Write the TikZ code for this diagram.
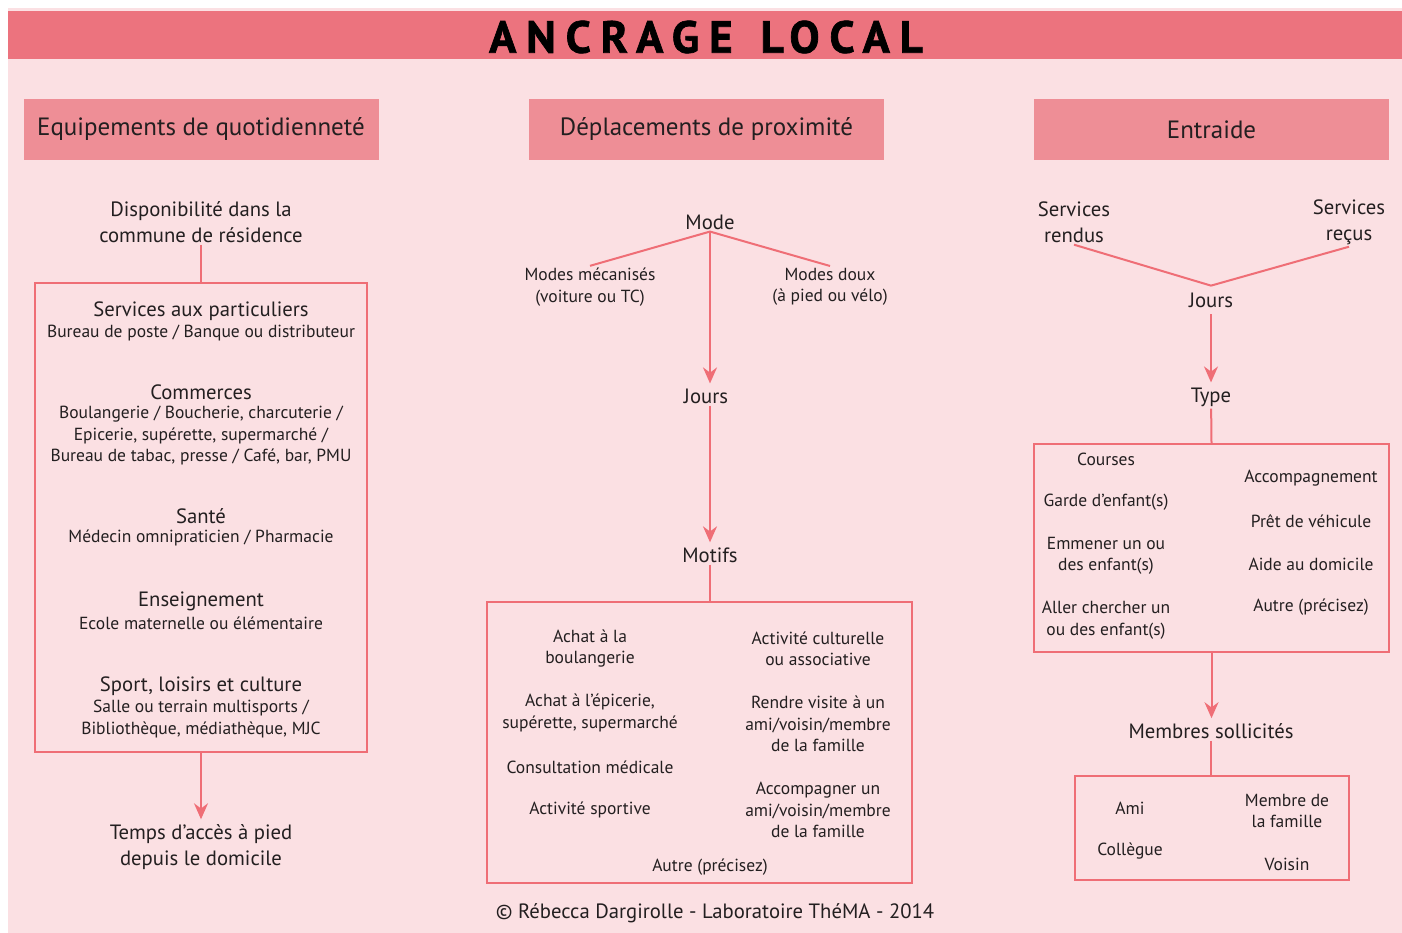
\documentclass[tikz,border=0pt]{standalone}
\usepackage{fontspec}
\setmainfont{PT Sans}
\newfontfamily\titrefont{PT Sans}[LetterSpace=22, FakeBold=1.5]
\usepackage{tikz}
\usetikzlibrary{arrows.meta,positioning}
\definecolor{fond}{RGB}{251,224,227}
\definecolor{bande}{RGB}{236,115,126}
\definecolor{entete}{RGB}{238,142,150}
\definecolor{rouge}{RGB}{239,110,118}
\definecolor{encre}{RGB}{35,31,32}
\tikzstyle{etiq}=[align=center, inner sep=2pt, text=encre, font=\fontsize{20.7}{26}\selectfont]
\tikzstyle{petit}=[etiq, font=\fontsize{17.5}{21.5}\selectfont]
\tikzstyle{entetebox}=[fill=entete, minimum width=355pt, minimum height=61pt, text=encre, font=\fontsize{25}{28}\selectfont]
\tikzstyle{cadre}=[draw=rouge, line width=2pt]
\newcommand{\etiq}{\node[etiq]}
\newcommand{\petit}{\node[petit]}

\begin{document}
\begin{tikzpicture}[x=1pt, y=-1pt]
			\tikzstyle{lien}=[draw=rouge, line width=2pt]
			\tikzstyle{fleche}=[lien, -{Stealth[length=16pt,width=14pt]}, shorten >=3pt]
			\useasboundingbox (0,0) rectangle (1402,933);
			% Fond et bandeau
			\fill[white] (0,0) rectangle (1402,933);
			\fill[fond] (8,8) rectangle (1402,933);
			\fill[bande] (8,11) rectangle (1402,59);
			\node[text=black, font=\titrefont\fontsize{45}{45}\selectfont\bfseries] (titre) at (706,37) {ANCRAGE\hspace{28pt}LOCAL};
			% Entetes
			\node[entetebox] (equip) at (201,129.5) {Equipements de quotidienneté};
			\node[entetebox] (depl) at (706.5,129.5) {Déplacements de proximité};
			\node[entetebox] (entr) at (1211.5,129.5) {Entraide};
			
			% Colonne gauche
			\etiq (dispo) at (201,222) {Disponibilité dans la\\commune de résidence};
			\node[cadre, minimum width=332pt, minimum height=469pt] (boxeq) at (201,517.5) {};
			\etiq (serv) at (201,311) {Services aux particuliers};
			\petit (servd) at (201,333) {Bureau de poste / Banque ou distributeur};
			\etiq (comm) at (201,392) {Commerces};
			\petit (commd) at (201,436) {Boulangerie / Boucherie, charcuterie /\\Epicerie, supérette, supermarché /\\Bureau de tabac, presse / Café, bar, PMU};
			\etiq (sante) at (201,516) {Santé};
			\petit (santed) at (201,538) {Médecin omnipraticien / Pharmacie};
			\etiq (ens) at (201,601) {Enseignement};
			\petit (ensd) at (201,623) {Ecole maternelle ou élémentaire};
			\etiq (sport) at (201,686) {Sport, loisirs et culture};
			\petit (sportd) at (201,719) {Salle ou terrain multisports /\\Bibliothèque, médiathèque, MJC};
			\etiq (temps) at (201,847) {Temps d’accès à pied\\depuis le domicile};
			
			% Colonne centrale
			\etiq (mode) at (710,222) {Mode};
			\petit (mecan) at (590,287) {Modes mécanisés\\(voiture ou TC)};
			\petit (doux) at (830,287) {Modes doux\\(à pied ou vélo)};
			\etiq (jours) at (706,396) {Jours};
			\etiq (motifs) at (710,555) {Motifs};
			\node[cadre, minimum width=425pt, minimum height=281pt] (boxmot) at (699.5,742.5) {};
			\petit (m1) at (590,648.5) {Achat à la\\boulangerie};
			\petit (m2) at (590,713) {Achat à l’épicerie,\\supérette, supermarché};
			\petit (m3) at (590,767) {Consultation médicale};
			\petit (m4) at (590,810) {Activité sportive};
			\petit (m5) at (818,649) {Activité culturelle\\ou associative};
			\petit (m6) at (818,724) {Rendre visite à un\\ami/voisin/membre\\de la famille};
			\petit (m7) at (818,810) {Accompagner un\\ami/voisin/membre\\de la famille};
			\petit (m8) at (710,867) {Autre (précisez)};
			\etiq (copy) at (715,913) {© Rébecca Dargirolle - Laboratoire ThéMA - 2014};
			
			% Colonne droite
			\etiq (rendus) at (1074,222) {Services\\rendus};
			\etiq (recus) at (1349,222) {Services\\reçus};
			\etiq[outer sep=5pt] (jours2) at (1211,300) {Jours};
			\etiq (type) at (1211,397) {Type};
			\node[cadre, minimum width=355pt, minimum height=208pt] (boxtype) at (1211.5,548) {};
			\petit (t1) at (1106,459) {Courses};
			\petit (t2) at (1106,502) {Garde d’enfant(s)};
			\petit (t3) at (1106,556) {Emmener un ou\\des enfant(s)};
			\petit (t4) at (1106,620) {Aller chercher un\\ou des enfant(s)};
			\petit (t5) at (1311,478) {Accompagnement};
			\petit (t6) at (1311,521) {Prêt de véhicule};
			\petit (t7) at (1311,564) {Aide au domicile};
			\petit (t8) at (1311,607) {Autre (précisez)};
			\etiq (membres) at (1211,731) {Membres sollicités};
			\node[cadre, minimum width=274pt, minimum height=104pt] (boxmem) at (1211.5,828) {};
			\petit (a1) at (1130,808) {Ami};
			\petit (a2) at (1130,851) {Collègue};
			\petit (a3) at (1287,811) {Membre de\\la famille};
			\petit (a4) at (1287,864) {Voisin};
			
			\path
			% Liens gauche
			(dispo) edge[lien] (boxeq.north)
			(boxeq.south) edge[fleche] (temps)
			% Liens centre
			(mode.south) edge[lien] (mecan.north)
			(mode.south) edge[lien] (doux.north)
			(mode.south) edge[fleche] (mode.south |- jours.north)
			(mode.south |- jours.south) edge[fleche] (motifs)
			(motifs) edge[lien] (motifs |- boxmot.north)
			% Liens droite
			(rendus.south) edge[lien] (jours2.north)
			(recus.south) edge[lien] (jours2.north)
			(jours2) edge[fleche] (type)
			(type) edge[lien] (boxtype.north)
			(boxtype.south) edge[fleche] (boxtype.south |- membres.north)
			(membres) edge[lien] (membres |- boxmem.north)
			;
		\end{tikzpicture}
\end{document}
